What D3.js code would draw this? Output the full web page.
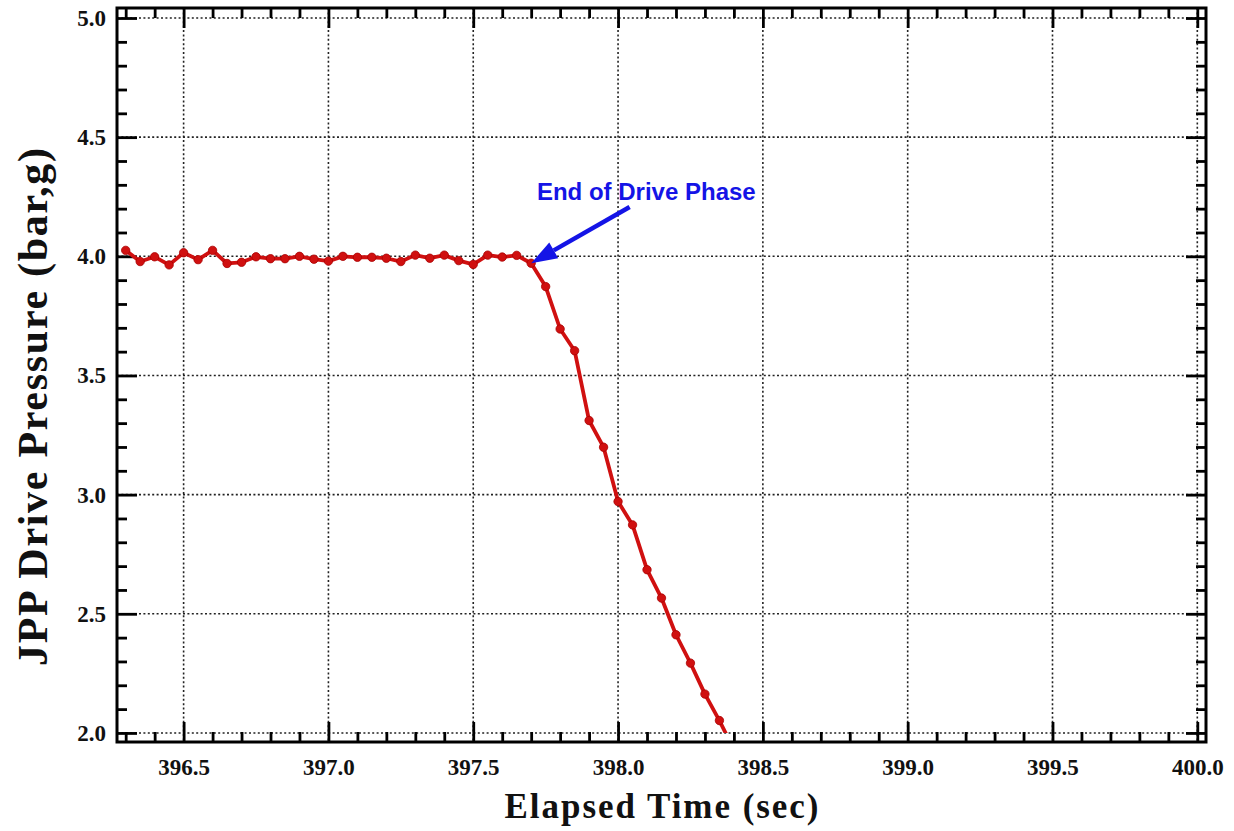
<!DOCTYPE html>
<html>
<head>
<meta charset="utf-8">
<script src="https://cdn.jsdelivr.net/npm/d3@7"></script>
<style>
  html, body { margin: 0; padding: 0; background: #fff; }
  svg { display: block; }
</style>
</head>
<body>
<svg id="chart" width="1234" height="831"></svg>
<script>
// Sample times (sec) and drive pressure (bar,g)
const times = [
  396.30, 396.35, 396.40, 396.45, 396.50, 396.55, 396.60, 396.65, 396.70, 396.75,
  396.80, 396.85, 396.90, 396.95, 397.00, 397.05, 397.10, 397.15, 397.20, 397.25,
  397.30, 397.35, 397.40, 397.45, 397.50, 397.55, 397.60, 397.65, 397.70, 397.75,
  397.80, 397.85, 397.90, 397.95, 398.00, 398.05, 398.10, 398.15, 398.20, 398.25,
  398.30, 398.35, 398.40
];
const pressure = [
  4.025, 3.978, 3.998, 3.964, 4.015, 3.986, 4.025, 3.970, 3.975, 3.998,
  3.990, 3.990, 4.000, 3.988, 3.980, 4.000, 3.996, 3.996, 3.992, 3.978,
  4.005, 3.992, 4.005, 3.982, 3.966, 4.005, 3.997, 4.004, 3.971, 3.873,
  3.695, 3.604, 3.311, 3.199, 2.971, 2.873, 2.685, 2.566, 2.412, 2.293,
  2.163, 2.052, 1.930
];

const xMajor = [396.5, 397.0, 397.5, 398.0, 398.5, 399.0, 399.5, 400.0];
const xMinor = [396.3, 396.4, 396.6, 396.7, 396.8, 396.9, 397.1, 397.2, 397.3, 397.4,
                397.6, 397.7, 397.8, 397.9, 398.1, 398.2, 398.3, 398.4, 398.6, 398.7,
                398.8, 398.9, 399.1, 399.2, 399.3, 399.4, 399.6, 399.7, 399.8, 399.9];
const yMajor = [2.0, 2.5, 3.0, 3.5, 4.0, 4.5, 5.0];
const yMinor = [2.1, 2.2, 2.3, 2.4, 2.6, 2.7, 2.8, 2.9, 3.1, 3.2, 3.3, 3.4,
                3.6, 3.7, 3.8, 3.9, 4.1, 4.2, 4.3, 4.4, 4.6, 4.7, 4.8, 4.9];

// annotation: label, arrow tail and arrow tip (data units)
const noteText = "End of Drive Phase";
const noteAt = [397.72, 4.237];
const arrowFrom = [398.04, 4.207];
const arrowTo = [397.70, 3.971];

const data = times.map((t, i) => ({ t: t, p: pressure[i] }));

const frame = { left: 117, right: 1206, top: 8, bottom: 742 };
const svg = d3.select("#chart");

const x = d3.scaleLinear().domain([396.27, 400.03]).range([frame.left, frame.right]);
const y = d3.scaleLinear().domain([1.962, 5.042]).range([frame.bottom, frame.top]);

const serif = "'Liberation Serif', 'Times New Roman', serif";
const fmt = d3.format(".1f");

// Grid lines (dotted) at major ticks
const grid = svg.append("g").attr("stroke", "#222").attr("stroke-width", 1.6)
  .attr("stroke-dasharray", "2,2.4");
grid.selectAll(".gx").data(xMajor).enter().append("line")
  .attr("x1", d => x(d)).attr("x2", d => x(d))
  .attr("y1", frame.top).attr("y2", frame.bottom);
grid.selectAll(".gy").data(yMajor).enter().append("line")
  .attr("y1", d => y(d)).attr("y2", d => y(d))
  .attr("x1", frame.left).attr("x2", frame.right);

// Axes: all ticks point inward
function styleAxis(g) {
  g.select(".domain").remove();
  g.selectAll(".tick line").attr("stroke", "#000").attr("stroke-width", 2.8);
  g.selectAll(".tick text").attr("fill", "#111").attr("font-family", serif)
    .attr("font-weight", "bold").attr("font-size", "23px");
}

svg.append("g").attr("transform", `translate(0,${frame.bottom})`)
  .call(d3.axisBottom(x).tickValues(xMinor).tickSize(-10).tickFormat(""))
  .call(styleAxis);
svg.append("g").attr("transform", `translate(0,${frame.bottom})`)
  .call(d3.axisBottom(x).tickValues(xMajor).tickSize(-20).tickPadding(17).tickFormat(fmt))
  .call(styleAxis);
svg.append("g").attr("transform", `translate(0,${frame.top})`)
  .call(d3.axisTop(x).tickValues(xMinor).tickSize(-10).tickFormat(""))
  .call(styleAxis);
svg.append("g").attr("transform", `translate(0,${frame.top})`)
  .call(d3.axisTop(x).tickValues(xMajor).tickSize(-20).tickFormat(""))
  .call(styleAxis);

svg.append("g").attr("transform", `translate(${frame.left},0)`)
  .call(d3.axisLeft(y).tickValues(yMinor).tickSize(-10).tickFormat(""))
  .call(styleAxis);
svg.append("g").attr("transform", `translate(${frame.left},0)`)
  .call(d3.axisLeft(y).tickValues(yMajor).tickSize(-20).tickPadding(11).tickFormat(fmt))
  .call(styleAxis);
svg.append("g").attr("transform", `translate(${frame.right},0)`)
  .call(d3.axisRight(y).tickValues(yMinor).tickSize(-10).tickFormat(""))
  .call(styleAxis);
svg.append("g").attr("transform", `translate(${frame.right},0)`)
  .call(d3.axisRight(y).tickValues(yMajor).tickSize(-20).tickFormat(""))
  .call(styleAxis);

// Frame
svg.append("rect")
  .attr("x", frame.left).attr("y", frame.top)
  .attr("width", frame.right - frame.left).attr("height", frame.bottom - frame.top)
  .attr("fill", "none").attr("stroke", "#000").attr("stroke-width", 3);

// Data line, clipped at the 2.0 grid line
svg.append("clipPath").attr("id", "plotclip").append("rect")
  .attr("x", frame.left).attr("y", frame.top)
  .attr("width", frame.right - frame.left).attr("height", y(2.0) - frame.top);

const plot = svg.append("g").attr("clip-path", "url(#plotclip)");
const line = d3.line().x(d => x(d.t)).y(d => y(d.p));
plot.append("path").datum(data)
  .attr("d", line)
  .attr("fill", "none").attr("stroke", "#d01010").attr("stroke-width", 3.8)
  .attr("stroke-linejoin", "round");
plot.selectAll(".pt").data(data).enter().append("circle")
  .attr("cx", d => x(d.t)).attr("cy", d => y(d.p)).attr("r", 4.2)
  .attr("fill", "#d01010").attr("stroke", "#a80000").attr("stroke-width", 0.8);

// Annotation arrow
const blue = "#1414e6";
const tx = x(arrowTo[0]), ty = y(arrowTo[1]);
const fx = x(arrowFrom[0]), fy = y(arrowFrom[1]);
const ang = Math.atan2(ty - fy, tx - fx);
const headLen = 26, headHalf = 9;
const bx = tx - headLen * Math.cos(ang), by = ty - headLen * Math.sin(ang);
svg.append("line")
  .attr("x1", fx).attr("y1", fy).attr("x2", bx).attr("y2", by)
  .attr("stroke", blue).attr("stroke-width", 4.5);
svg.append("path")
  .attr("d", d3.line()([
    [tx, ty],
    [bx + headHalf * Math.sin(ang), by - headHalf * Math.cos(ang)],
    [bx - headHalf * Math.sin(ang), by + headHalf * Math.cos(ang)]
  ]) + "Z")
  .attr("fill", blue);
svg.append("text")
  .attr("x", x(noteAt[0])).attr("y", y(noteAt[1]))
  .attr("font-family", "'Liberation Sans', Arial, sans-serif")
  .attr("font-weight", "bold").attr("font-size", "24px")
  .attr("fill", blue)
  .text(noteText);

// Axis titles
svg.append("text")
  .attr("x", (frame.left + frame.right) / 2).attr("y", 818)
  .attr("text-anchor", "middle")
  .attr("font-family", serif).attr("font-weight", "bold").attr("font-size", "35px")
  .attr("textLength", 314).attr("lengthAdjust", "spacing")
  .attr("fill", "#111")
  .text("Elapsed Time (sec)");

svg.append("text")
  .attr("transform", "translate(47,407) rotate(-90)")
  .attr("text-anchor", "middle")
  .attr("font-family", serif).attr("font-weight", "bold").attr("font-size", "42px")
  .attr("textLength", 518).attr("lengthAdjust", "spacing")
  .attr("fill", "#111")
  .text("JPP Drive Pressure (bar,g)");
</script>
</body>
</html>
